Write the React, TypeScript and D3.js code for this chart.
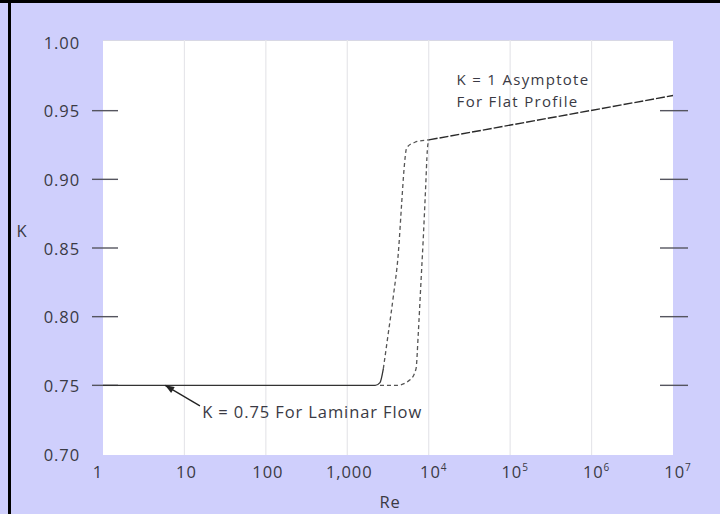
import React from "react";
import * as d3 from "d3";

// x axis: Reynolds number (log), y axis: K
const xTicks = [1, 10, 100, 1000, 1e4, 1e5, 1e6, 1e7];
const xTickBase = ["1", "10", "100", "1,000", "10", "10", "10", "10"];
const xTickExp = ["", "", "", "", "4", "5", "6", "7"];
const yTicks = [0.7, 0.75, 0.8, 0.85, 0.9, 0.95, 1.0];
const yTickMarks = [0.75, 0.8, 0.85, 0.9, 0.95];

// laminar plateau (solid)
const laminarRe = [1, 2200, 2520, 2770];
const laminarK = [0.75, 0.75, 0.752, 0.762];

// transition, lower Re branch (dashed)
const lowRe = [2770, 3190, 3680, 4230, 4660, 4970, 5370, 6780, 9440, 10000];
const lowK = [0.762, 0.788, 0.815, 0.846, 0.883, 0.907, 0.923, 0.927, 0.9286, 0.9287];

// transition, higher Re branch (dashed)
const highRe = [2520, 4040, 5890, 6980, 7450, 7980, 8590, 9180, 9610, 10000];
const highK = [0.75, 0.75, 0.754, 0.762, 0.788, 0.822, 0.858, 0.895, 0.921, 0.9287];

// turbulent line toward flat profile
const turbRe = [1e4, 1e7];
const turbK = [0.9287, 0.961];

const W = 720;
const H = 514;
const plot = { left: 103, right: 673, top: 42, bottom: 454 };
const font = "'Open Sans', 'DejaVu Sans', sans-serif";
const textColor = "#3a3a44";
const fs = 16.5;
const ls = 0.9;

const x = d3.scaleLog().domain([1, 1e7]).range([plot.left, plot.right]);
const y = d3.scaleLinear().domain([0.7, 1.0]).range([plot.bottom, plot.top]);

const line = d3
  .line<[number, number]>()
  .x((d) => x(d[0]))
  .y((d) => y(d[1]))
  .curve(d3.curveMonotoneX);

const zip = (a: number[], b: number[]) => a.map((v, i) => [v, b[i]] as [number, number]);

export default function App() {
  const tip: [number, number] = [x(5.8), y(0.75)];
  const tail: [number, number] = [x(15.5), y(0.735)];
  const ang = Math.atan2(tip[1] - tail[1], tip[0] - tail[0]);
  const ah = 9;
  const aw = 3.5;
  const head = [
    [tip[0], tip[1]],
    [tip[0] - ah * Math.cos(ang) + aw * Math.sin(ang), tip[1] - ah * Math.sin(ang) - aw * Math.cos(ang)],
    [tip[0] - ah * Math.cos(ang) - aw * Math.sin(ang), tip[1] - ah * Math.sin(ang) + aw * Math.cos(ang)],
  ]
    .map((p) => p.join(","))
    .join(" ");

  const txt = { fontFamily: font, fontSize: fs, fill: textColor, letterSpacing: ls } as const;
  const note = { fontFamily: font, fontSize: 15, fill: textColor, letterSpacing: 1.3 } as const;

  return (
    <div style={{ position: "fixed", left: 0, top: 0 }}>
      <svg width={W} height={H} style={{ display: "block" }}>
        <rect x={0} y={0} width={W} height={H} fill="#cfcffc" />
        <line x1={9.5} y1={0} x2={9.5} y2={H} stroke="#000" strokeWidth={3} />
        <line x1={0} y1={1.5} x2={W} y2={1.5} stroke="#000" strokeWidth={3} />

        {/* plot area */}
        <rect x={plot.left} y={40} width={plot.right - plot.left} height={455 - 40} fill="#ffffff" />
        <line x1={plot.left} y1={40.5} x2={plot.right} y2={40.5} stroke="#d8d8e4" />

        {/* vertical grid */}
        {xTicks.slice(1, -1).map((t) => (
          <line key={t} x1={x(t)} x2={x(t)} y1={40} y2={455} stroke="#e6e6ea" strokeWidth={1.2} />
        ))}

        {/* y tick marks both sides */}
        {yTickMarks.map((t) => (
          <g key={t} stroke="#55555f" strokeWidth={1.4}>
            <line x1={92} x2={118} y1={y(t)} y2={y(t)} />
            <line x1={660} x2={688} y1={y(t)} y2={y(t)} />
          </g>
        ))}

        {/* y tick labels */}
        {yTicks.map((t) => (
          <text key={t} x={80} y={y(t)} textAnchor="end" dominantBaseline="central" {...txt}>
            {t.toFixed(2)}
          </text>
        ))}
        <text x={22} y={230} textAnchor="middle" dominantBaseline="central" {...txt}>
          K
        </text>

        {/* x tick labels */}
        {xTicks.map((t, i) => (
          <text
            key={t}
            x={x(t) + (i === 0 ? -5 : xTickExp[i] ? 5 : 2)}
            y={478}
            textAnchor="middle"
            {...txt}
          >
            {xTickBase[i]}
            {xTickExp[i] && (
              <tspan dy={-7} fontSize={10}>
                {xTickExp[i]}
              </tspan>
            )}
          </text>
        ))}
        <text x={390} y={508} textAnchor="middle" {...txt}>
          Re
        </text>

        {/* curves */}
        <path d={line(zip(laminarRe, laminarK)) || ""} fill="none" stroke="#333" strokeWidth={1.3} />
        <path d={line(zip(lowRe, lowK)) || ""} fill="none" stroke="#555" strokeWidth={1.3} strokeDasharray="4,3" />
        <path d={line(zip(highRe, highK)) || ""} fill="none" stroke="#555" strokeWidth={1.3} strokeDasharray="4,3" />
        <path d={line(zip(turbRe, turbK)) || ""} fill="none" stroke="#2a2a2a" strokeWidth={1.4} strokeDasharray="9,2" />

        {/* annotations */}
        <line x1={tail[0]} y1={tail[1]} x2={tip[0]} y2={tip[1]} stroke="#222" strokeWidth={1.3} />
        <polygon points={head} fill="#222" />
        <text x={x(16.5)} y={y(0.7313)} dominantBaseline="central" {...txt}>
          K = 0.75 For Laminar Flow
        </text>
        <text x={x(22000)} y={y(0.9727)} dominantBaseline="central" {...note}>
          K = 1 Asymptote
        </text>
        <text x={x(22000)} y={y(0.9573)} dominantBaseline="central" {...note}>
          For Flat Profile
        </text>
      </svg>
    </div>
  );
}
